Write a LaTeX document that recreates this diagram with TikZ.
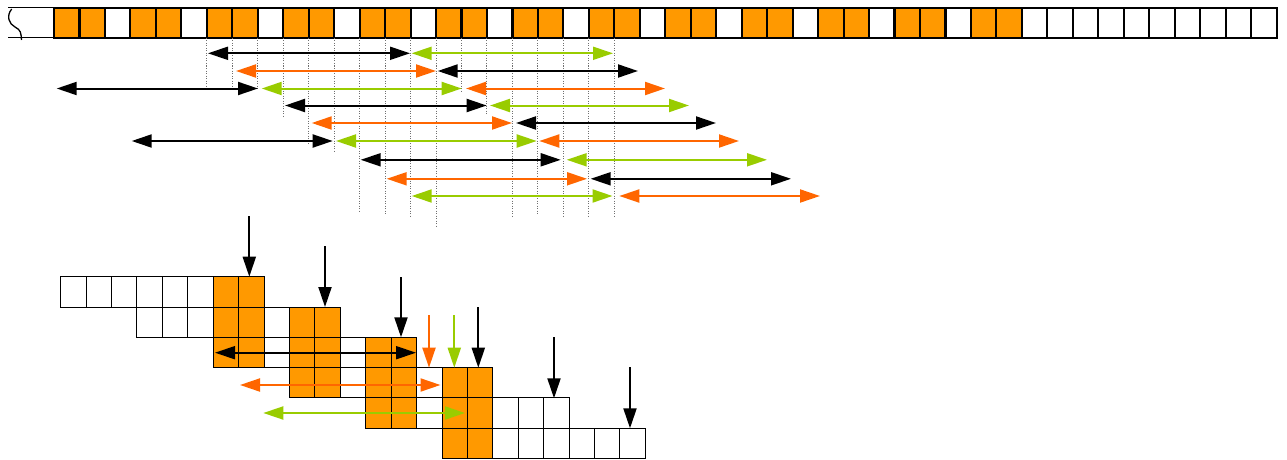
\documentclass[tikz,border=0pt]{standalone}
\usetikzlibrary{arrows.meta}
\definecolor{cellor}{HTML}{FF9900}
\definecolor{arror}{HTML}{FF6600}
\definecolor{arrgr}{HTML}{99CC00}
\definecolor{dotg}{HTML}{707070}
\tikzset{
  tapecell/.style={draw=black, line width=2.1pt, minimum width=25.47pt, minimum height=29.7pt, inner sep=0pt, outer sep=0pt, anchor=north west},
  gridcell/.style={draw=black, line width=1pt, minimum width=25.42pt, minimum height=30.3pt, inner sep=0pt, outer sep=0pt, anchor=north west},
  dblarrow/.style={line width=2pt, {Triangle[length=20pt,width=13pt]}-{Triangle[length=20pt,width=13pt]}},
  downarrow/.style={line width=2pt, -{Triangle[length=20pt,width=13pt]}},
  guide/.style={draw=dotg, line width=1pt, dash pattern=on 1pt off 1.5pt},
  breakline/.style={draw=black, line width=1.3pt},
}
\begin{document}
\begin{tikzpicture}[x=1pt,y=-1pt]
\path[use as bounding box] (0,0) rectangle (1287,460);
% left break
\coordinate (bl1) at (8,7.4);
\coordinate (bl2) at (54,7.4);
\coordinate (bl3) at (8,37.8);
\coordinate (bl4) at (54,37.8);
\draw[breakline] (bl1) -- (bl2);
\draw[breakline] (bl3) -- (bl4);
\coordinate (sq1) at (11.7,9);
\coordinate (sq2) at (15,27);
\coordinate (sq3) at (21.5,40);
\draw[breakline] (sq1) .. controls (6,16) and (9,24) .. (sq2) .. controls (21,30) and (21,33) .. (sq3);
% top tape
\foreach \i in {0,...,47}{
  \pgfmathtruncatemacro{\m}{mod(\i,3)}
  \ifnum\i<38 \ifnum\m<2 \def\fc{cellor}\else\def\fc{white}\fi\else\def\fc{white}\fi
  \node[tapecell, fill=\fc] (t\i) at ({54+25.47*\i}, 8.3) {};
}
% dotted guides
\foreach \k/\e in {6/87,7/88,8/90,9/117,10/144,11/153,12/213,13/215,14/216,15/227,16/92,17/115,18/216,19/215,20/216.5,21/216.5,22/216.5}{
  \coordinate (g\k) at ({54+25.47*\k}, \e);
  \draw[guide] (t\k.south west) -- (g\k);
}
% interval arrows
\foreach \n/\y/\a/\b/\c in {
  1/53.3/208/410/black, 2/53.3/411.7/613/arrgr,
  3/71/236/436/arror, 4/71/437.7/638/black,
  5/88.5/56.7/258/black, 6/88.5/261.7/461.7/arrgr, 7/88.5/466/665/arror,
  8/105.5/285/486.7/black, 9/105.5/490/689/arrgr,
  10/123/311.7/512/arror, 11/123/516/716/black,
  12/141/131.7/332.7/black, 13/141/336/536.7/arrgr, 14/141/539.3/739/arror,
  15/159.8/360.7/560.7/black, 16/159.8/566.7/767/arrgr,
  17/178.8/386.7/587/arror, 18/178.8/590.7/791/black,
  19/196/411.7/612.5/arrgr, 20/196/619.3/820/arror}{
  \coordinate (ia\n) at (\a,\y);
  \coordinate (ib\n) at (\b,\y);
  \draw[dblarrow, draw=\c, fill=\c] (ia\n) -- (ib\n);
}
% bottom grid
\foreach \r in {0,...,5}{
  \foreach \j in {0,...,7}{
    \pgfmathtruncatemacro{\cc}{3*\r+\j}
    \pgfmathtruncatemacro{\m}{mod(\cc,3)}
    \def\fc{white}
    \ifnum\cc>5 \ifnum\cc<17 \ifnum\m<2 \def\fc{cellor}\fi\fi\fi
    \node[gridcell, fill=\fc] (b\r-\cc) at ({60.7+25.42*\cc}, {276.7+30.3*\r}) {};
  }
}
% vertical arrows
\foreach \n/\x/\ya/\yb/\c in {
  1/249.3/216/276.7/black, 2/325/246/307/black, 3/401/277/337.3/black,
  4/429/315/367.7/arror, 5/454.3/315/367.7/arrgr, 6/478.3/307/367.7/black,
  7/554/337/398.3/black, 8/630/367/428.3/black}{
  \coordinate (va\n) at (\x,\ya);
  \coordinate (vb\n) at (\x,\yb);
  \draw[downarrow, draw=\c, fill=\c] (va\n) -- (vb\n);
}
% bottom horizontal arrows
\foreach \n/\y/\a/\b/\c in {1/352.7/215/416/black, 2/385/240/440.5/arror, 3/413/263.3/465/arrgr}{
  \coordinate (ha\n) at (\a,\y);
  \coordinate (hb\n) at (\b,\y);
  \draw[dblarrow, draw=\c, fill=\c] (ha\n) -- (hb\n);
}
\end{tikzpicture}
\end{document}
